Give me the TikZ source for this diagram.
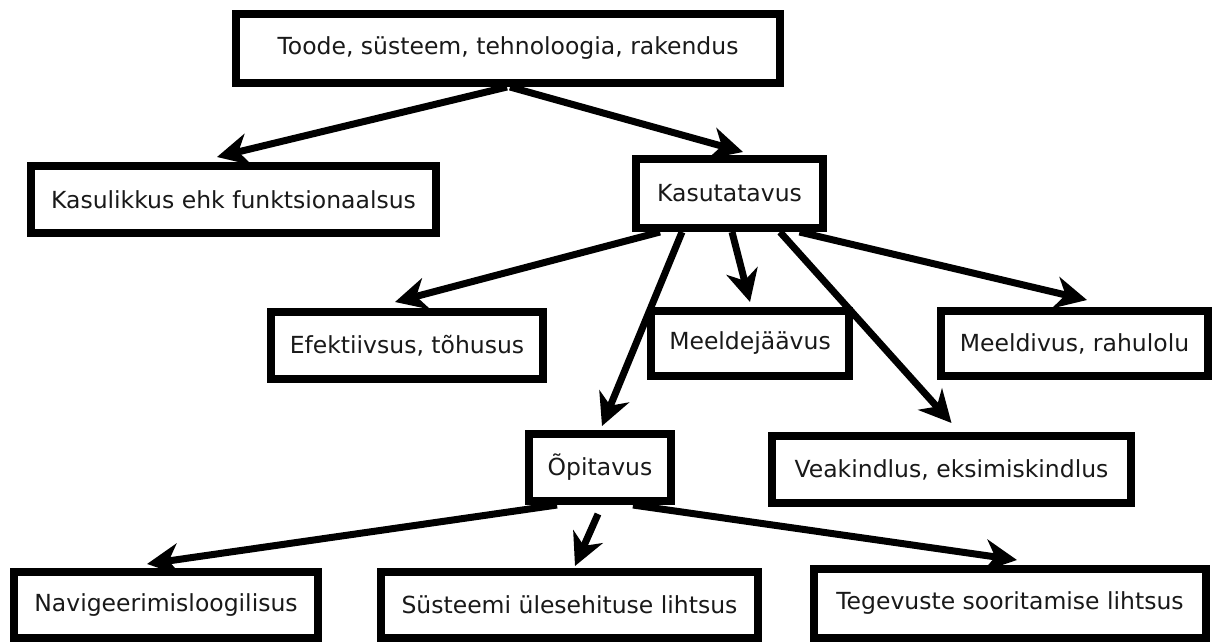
\documentclass[tikz,border=0pt]{standalone}
\usepackage{fontspec}
\setmainfont{DejaVu Sans}
\usetikzlibrary{arrows.meta}

\tikzset{
  box/.style={draw=black, line width=8pt, fill=white, inner sep=0pt,
    font=\fontsize{23.5}{28}\selectfont, text=black!90},
  arr/.style={line width=7pt, -{Stealth[length=32pt,width=32pt,inset=10pt]}}
}

\begin{document}
\begin{tikzpicture}[x=1pt, y=-1pt]
                \useasboundingbox (0,0) rectangle (1215,644);
                % boxes
                \node[box, minimum width=544pt, minimum height=69pt] (prod) at (508,48.5) {Toode, süsteem, tehnoloogia, rakendus};
                \node[box, minimum width=405pt, minimum height=67pt] (kasul) at (233.5,199.5) {Kasulikkus ehk funktsionaalsus};
                \node[box, minimum width=187pt, minimum height=69pt] (kasut) at (729.5,193.5) {Kasutatavus};
                \node[box, minimum width=272pt, minimum height=67pt] (efekt) at (407,345.5) {Efektiivsus, tõhusus};
                \node[box, minimum width=198pt, minimum height=65pt] (meeldej) at (750,343.5) {Meeldejäävus};
                \node[box, minimum width=267pt, minimum height=65pt] (meeldiv) at (1074.5,343.5) {Meeldivus, rahulolu};
                \node[box, minimum width=142pt, minimum height=67pt] (opit) at (600,467.5) {Õpitavus};
                \node[box, minimum width=359pt, minimum height=67pt] (veak) at (951.5,469.5) {Veakindlus, eksimiskindlus};
                \node[box, minimum width=304pt, minimum height=66pt] (navig) at (166,605) {Navigeerimisloogilisus};
                \node[box, minimum width=377pt, minimum height=66pt] (syst) at (569.5,605) {Süsteemi ülesehituse lihtsus};
                \node[box, minimum width=392pt, minimum height=69pt] (tegev) at (1010,603.5) {Tegevuste sooritamise lihtsus};
                % arrows
                \draw[arr] ([xshift=-1pt]prod.south) -- ([shift={(-16.5pt,5pt)}]kasul.north);
                \draw[arr] ([xshift=2pt]prod.south) -- ([shift={(13.5pt,3pt)}]kasut.north);
                \draw[arr] ([xshift=-69.5pt]kasut.south) -- ([shift={(-12pt,6pt)}]efekt.north);
                \draw[arr] ([xshift=-47.5pt]kasut.south) -- ([shift={(2pt,4pt)}]opit.north);
                \draw[arr] ([xshift=2.5pt]kasut.south) -- ([shift={(0pt,5pt)}]meeldej.north);
                \draw[arr] ([xshift=50.5pt]kasut.south) -- ([shift={(0pt,9pt)}]veak.north);
                \draw[arr] ([xshift=70pt]kasut.south) -- ([shift={(12.5pt,7pt)}]meeldiv.north);
                \draw[arr] ([xshift=-43pt]opit.south) -- ([shift={(-19pt,4pt)}]navig.north);
                \draw[arr] ([shift={(-2pt,-9pt)}]opit.south) -- ([shift={(5.5pt,2pt)}]syst.north);
                \draw[arr] ([xshift=33pt]opit.south) -- ([shift={(7pt,5pt)}]tegev.north);
\end{tikzpicture}
\end{document}
